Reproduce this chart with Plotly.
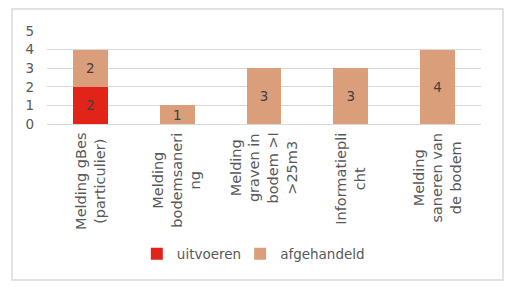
import plotly.graph_objects as go

categories = ["Melding gBes (particulier)", "Melding bodemsanering", "Melding graven in bodem >I >25m3",
              "Informatieplicht", "Melding saneren van de bodem"]
category_labels = ["Melding gBes<br>(particulier)", "Melding<br>bodemsaneri<br>ng",
                   "Melding<br>graven in<br>bodem >I<br>>25m3", "Informatiepli<br>cht",
                   "Melding<br>saneren van<br>de bodem"]
uitvoeren = [2, None, None, None, None]
afgehandeld = [2, 1, 3, 3, 4]
y_ticks = [0, 1, 2, 3, 4, 5]

FONT = "DejaVu Sans, Verdana, sans-serif"
TXT = "#595959"
FS = 13.5

fig = go.Figure()
fig.add_trace(go.Bar(x=categories, y=uitvoeren, name="uitvoeren", legend="legend",
                     marker=dict(color="#E2231A", line=dict(width=0)),
                     text=uitvoeren, textposition="inside", insidetextanchor="middle", textangle=0,
                     constraintext="none",
                     textfont=dict(family=FONT, size=FS, color="#404040"), hoverinfo="skip"))
fig.add_trace(go.Bar(x=categories, y=afgehandeld, name="afgehandeld", legend="legend2",
                     marker=dict(color="#DA9F7A", line=dict(width=0)),
                     text=afgehandeld, textposition="inside", insidetextanchor="middle", textangle=0,
                     constraintext="none",
                     textfont=dict(family=FONT, size=FS, color="#404040"), hoverinfo="skip"))

for c, lab in zip(categories, category_labels):
    fig.add_annotation(x=c, xref="x", y=-0.075, yref="paper", text=lab, textangle=-90,
                       showarrow=False, xanchor="center", yanchor="top", align="center",
                       font=dict(family=FONT, size=14.5, color=TXT))

fig.add_shape(type="rect", xref="paper", yref="paper", x0=-0.0806, x1=1.0507, y0=-1.677, y1=1.2366,
              line=dict(color="#D9D9D9", width=1.5), layer="below")

leg = dict(orientation="h", xanchor="left", y=-1.398, yanchor="middle",
           font=dict(family=FONT, size=FS, color=TXT), itemwidth=30, bgcolor="rgba(0,0,0,0)")

fig.update_layout(
    width=527, height=300, barmode="stack", bargap=0.597,
    margin=dict(l=47, r=46, t=31, b=176),
    paper_bgcolor="white", plot_bgcolor="white",
    font=dict(family=FONT, size=FS, color=TXT),
    showlegend=True,
    legend=dict(leg, x=0.207),
    legend2=dict(leg, x=0.445),
    xaxis=dict(showticklabels=False, showgrid=False, zeroline=False, showline=False, ticks=""),
    yaxis=dict(range=[0, 5], tickvals=y_ticks, showgrid=True, gridcolor="#D9D9D9", gridwidth=1,
               zeroline=True, zerolinecolor="#D9D9D9", zerolinewidth=1, showline=False,
               ticks="", ticklabelstandoff=12, tickfont=dict(family=FONT, size=FS, color=TXT)),
)

fig.write_html("out.html")
